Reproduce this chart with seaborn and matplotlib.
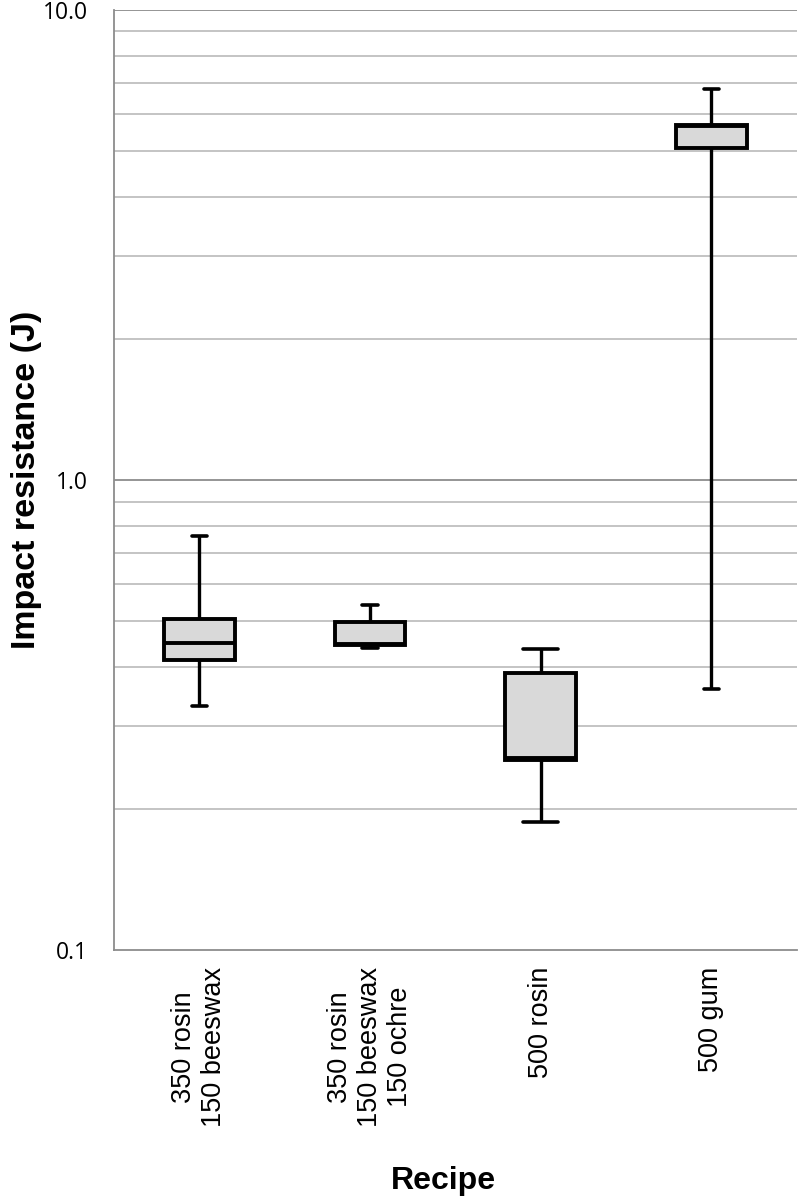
import numpy as np
import pandas as pd
import matplotlib
matplotlib.use("Agg")
import matplotlib.pyplot as plt
import seaborn as sns
from matplotlib.ticker import FixedLocator, FuncFormatter, NullFormatter

recipes = ["350 rosin\n150 beeswax", "350 rosin\n150 beeswax\n150 ochre", "500 rosin", "500 gum"]
lower_whisker = [0.331, 0.440, 0.187, 0.359]
q1 = [0.414, 0.445, 0.254, 5.09]
median = [0.450, 0.448, 0.256, 5.66]
q3 = [0.506, 0.499, 0.388, 5.69]
upper_whisker = [0.760, 0.542, 0.437, 6.79]
ytick_values = [0.1, 1, 10]
ytick_labels = ["0.1", "1.0", "10.0"]

rows = []
for i, r in enumerate(recipes):
    for v in (lower_whisker[i], q1[i], median[i], q3[i], upper_whisker[i]):
        rows.append({"Recipe": r, "Impact": v})
df = pd.DataFrame(rows)

sns.set_style("white")
plt.rcParams["font.family"] = ["Liberation Sans", "DejaVu Sans"]
plt.rcParams["text.color"] = "black"
plt.rcParams["axes.labelcolor"] = "black"
plt.rcParams["xtick.labelcolor"] = "black"
plt.rcParams["ytick.labelcolor"] = "black"

fig = plt.figure(figsize=(8, 12), dpi=100)
ax = fig.add_axes([0.1425, 0.2083, 0.8535, 0.7834])

lw = 2.8
sns.boxplot(data=df, x="Recipe", y="Impact", order=recipes, ax=ax,
            whis=(0, 100), width=0.415, color="#d9d9d9", linecolor="black",
            linewidth=lw, log_scale=True, showfliers=False,
            boxprops=dict(facecolor="#d9d9d9", edgecolor="black", linewidth=lw),
            medianprops=dict(color="black", linewidth=lw),
            whiskerprops=dict(color="black", linewidth=2.4),
            capprops=dict(color="black", linewidth=2.6))

# shorten whisker caps
for line in ax.lines:
    xd = np.asarray(line.get_xdata(), dtype=float)
    yd = np.asarray(line.get_ydata(), dtype=float)
    if len(xd) == 2 and yd[0] == yd[1] and (yd[0] in lower_whisker or yd[0] in upper_whisker) and abs(xd[1] - xd[0]) > 0:
        c = xd.mean()
        line.set_xdata([c - 0.045, c + 0.045])

ax.set_yscale("log")
ax.set_ylim(0.1, 10)
ax.set_xlim(-0.5, 3.5)

minor = [m * d for d in (0.1, 1) for m in range(2, 10)]
lab_map = dict(zip([round(v, 3) for v in ytick_values], ytick_labels))
ax.yaxis.set_major_locator(FixedLocator(ytick_values))
ax.yaxis.set_minor_locator(FixedLocator(minor))
ax.yaxis.set_major_formatter(FuncFormatter(lambda v, p: lab_map.get(round(v, 3), "")))
ax.yaxis.set_minor_formatter(NullFormatter())

for v in minor:
    ax.axhline(v, color="#bfbfbf", linewidth=1.3, zorder=0)
for v in (1, 10):
    ax.axhline(v, color="#8c8c8c", linewidth=1.3, zorder=0)

ax.set_xticks(range(len(recipes)))
ax.set_xticklabels(recipes, rotation=90, fontsize=19.5, va="top", ha="center",
                   multialignment="center", linespacing=1.2)
ax.set_xticks([-0.5, 0.5, 1.5, 2.5, 3.5], minor=True)
ax.tick_params(axis="x", which="major", length=0, pad=12)
ax.tick_params(axis="x", which="minor", length=6, width=1.3, color="#8c8c8c", direction="out")
ax.tick_params(axis="y", which="major", length=11, width=1.3, color="#8c8c8c", direction="inout", labelsize=16.5, pad=13)
ax.tick_params(axis="y", which="minor", length=6, width=1.3, color="#8c8c8c", direction="out")
for lab in ax.get_yticklabels():
    lab.set_family(["Open Sans", "DejaVu Sans"])

for s in ("top", "right"):
    ax.spines[s].set_visible(False)
for s in ("left", "bottom"):
    ax.spines[s].set_color("#8c8c8c")
    ax.spines[s].set_linewidth(1.3)

ax.set_ylabel("Impact resistance (J)", fontsize=24.5, fontweight="bold", labelpad=1)
ax.set_xlabel("Recipe", fontsize=23, fontweight="bold")
ax.xaxis.set_label_coords(0.483, -0.2300)

fig.savefig("out.png", dpi=100)
